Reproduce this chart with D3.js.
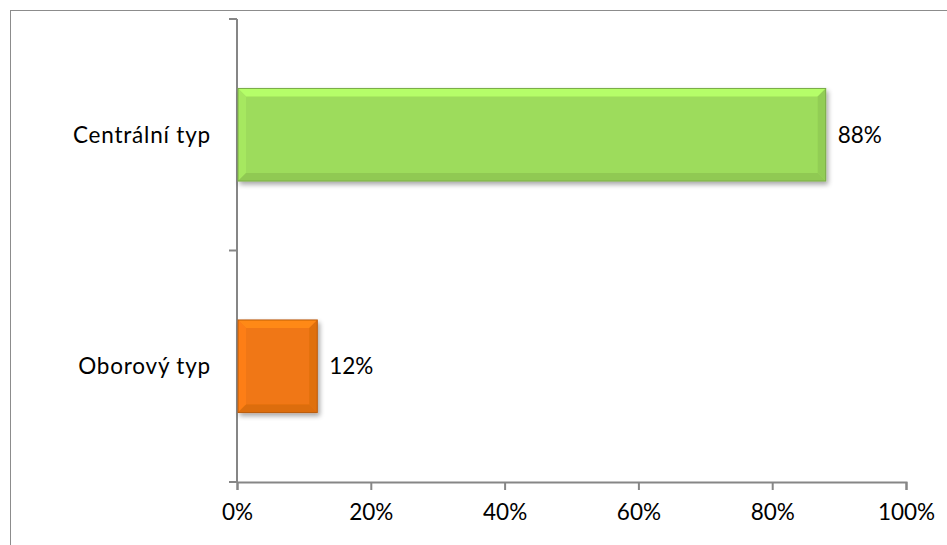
<!DOCTYPE html>
<html><head><meta charset="utf-8">
<script src="https://cdn.jsdelivr.net/npm/d3@7"></script>
<style>body{margin:0;background:#fff}svg{display:block}svg text{font-family:Lato,"Open Sans",sans-serif;font-size:22.5px;fill:#000}</style>
</head><body><svg id="c" width="947" height="545"></svg>
<script>
const categories = ["Centrální typ", "Oborový typ"];
const values = [88, 12];
const colors = ["#9ddc5b", "#f07712"];
const tickValues = [0, 20, 40, 60, 80, 100];

const svg = d3.select("#c");
svg.append("rect").attr("x",10.5).attr("y",10.5).attr("width",960).attr("height",560)
  .attr("fill","#fff").attr("stroke","#8c8c8c").attr("stroke-width",1);

const L=237, R=906, T=19, B=482;
const x = d3.scaleLinear().domain([0,100]).range([L,R]);
const y = d3.scaleBand().domain(categories).range([T,B]).paddingInner(0.6).paddingOuter(0.3);

const defs = svg.append("defs");
const f = defs.append("filter").attr("id","sh").attr("x","-10%").attr("y","-20%").attr("width","130%").attr("height","150%");
f.append("feGaussianBlur").attr("in","SourceAlpha").attr("stdDeviation",2.5);
f.append("feOffset").attr("dx",2).attr("dy",3).attr("result","b");
f.append("feComponentTransfer").append("feFuncA").attr("type","linear").attr("slope",0.35);
const m=f.append("feMerge"); m.append("feMergeNode"); m.append("feMergeNode").attr("in","SourceGraphic");

// axes
const xAxis = d3.axisBottom(x).tickValues(tickValues).tickFormat(d=>d+"%").tickSize(8).tickSizeOuter(8);
const gx = svg.append("g").attr("transform",`translate(0,${B})`).call(xAxis);
gx.attr("font-size",null).attr("font-family",null);
gx.select(".domain").attr("stroke","#868686").attr("stroke-width",2);
gx.selectAll(".tick line").attr("stroke","#868686").attr("stroke-width",2);
gx.selectAll(".tick text").attr("dy","1.2em");

const yb = d3.scaleLinear().domain([0,2]).range([T,B]);
svg.append("line").attr("x1",L).attr("x2",L).attr("y1",T).attr("y2",B).attr("stroke","#868686").attr("stroke-width",2);
svg.selectAll(".yt").data([0,1,2]).join("line").attr("x1",L-8).attr("x2",L).attr("y1",d=>yb(d)).attr("y2",d=>yb(d)).attr("stroke","#868686").attr("stroke-width",2);

svg.selectAll(".cat").data(categories).join("text").attr("class","cat")
  .attr("x",211).attr("y",d=>y(d)+y.bandwidth()/2).attr("dy","0.35em").attr("text-anchor","end")
  .attr("letter-spacing","0.8px").text(d=>d);

// bars with bevel
const bw=8;
categories.forEach((c,i)=>{
  const x0=x(0)+1, x1=x(values[i]), y0=y(c), y1=y(c)+y.bandwidth();
  const base=d3.color(colors[i]);
  const g=svg.append("g").attr("filter","url(#sh)");
  g.append("rect").attr("x",x0).attr("y",y0).attr("width",x1-x0).attr("height",y1-y0).attr("fill",base);
  const poly=(pts,col)=>g.append("polygon").attr("points",pts.map(p=>p.join(",")).join(" ")).attr("fill",col);
  poly([[x0,y0],[x1,y0],[x1-bw,y0+bw],[x0+bw,y0+bw]], base.brighter(0.4));
  poly([[x0,y0],[x0+bw,y0+bw],[x0+bw,y1-bw],[x0,y1]], base.brighter(0.15));
  poly([[x1,y0],[x1,y1],[x1-bw,y1-bw],[x1-bw,y0+bw]], base.darker(0.2));
  poly([[x0,y1],[x0+bw,y1-bw],[x1-bw,y1-bw],[x1,y1]], base.darker(0.25));
  g.append("rect").attr("x",x0).attr("y",y0).attr("width",x1-x0).attr("height",y1-y0).attr("fill","none").attr("stroke",base.darker(0.7)).attr("stroke-width",1);
  svg.append("text").attr("x",x1+12).attr("y",y0+(y1-y0)/2).attr("dy","0.35em").text(values[i]+"%");
});
</script></body></html>
